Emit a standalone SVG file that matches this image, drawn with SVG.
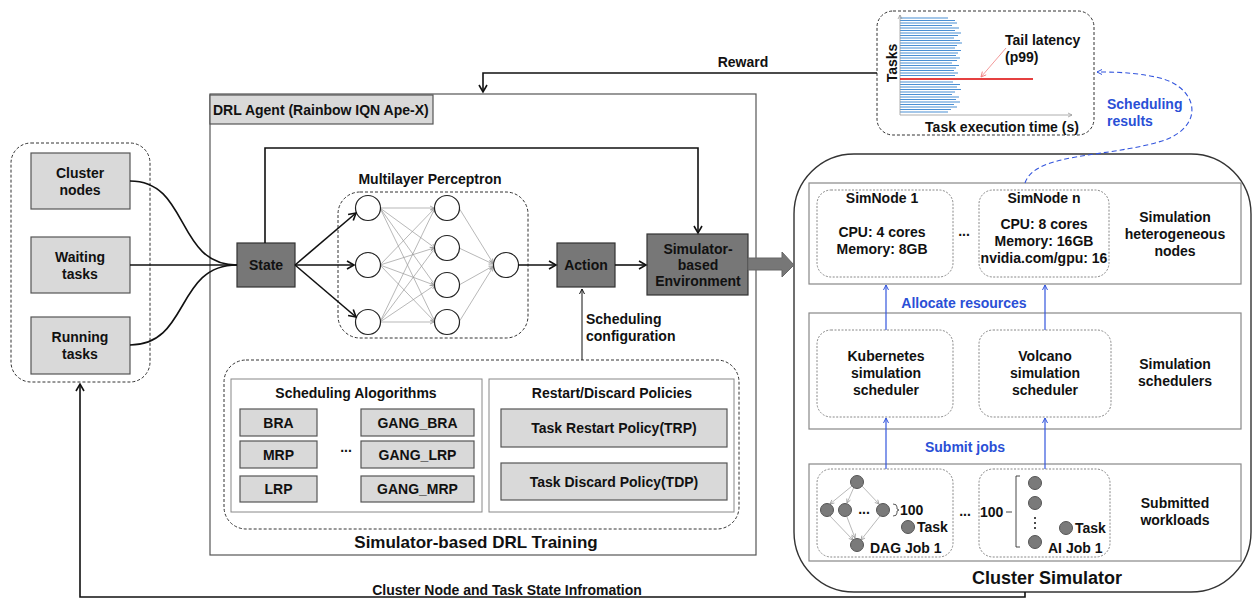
<svg xmlns="http://www.w3.org/2000/svg" width="1252" height="601" viewBox="0 0 1252 601">
<style>
text{font-family:"Liberation Sans",Arial,sans-serif;font-weight:bold;fill:#111}
.t13{font-size:14px}
.t12{font-size:14px}
.t17{font-size:17px}
.t18{font-size:18px}
.mid{text-anchor:middle}
.blue{fill:#2a4fd6}
.light{fill:#d9d9d9;stroke:#555;stroke-width:1.2}
.dark{fill:#777;stroke:#333;stroke-width:1.2}
.dash{fill:none;stroke:#333;stroke-width:1;stroke-dasharray:3,2}
.dot{fill:none;stroke:#888;stroke-width:1;stroke-dasharray:2,1.5}
.row{fill:#fff;stroke:#888;stroke-width:1.2}
.wire{fill:none;stroke:#111;stroke-width:1.6}
.gw{stroke:#999;stroke-width:0.7}
.neuron{fill:#fff;stroke:#222;stroke-width:1.2}
.task{fill:#7a7a7a;stroke:#555;stroke-width:1}
.bar{stroke:#4a8fd4;stroke-width:1.1}
.bw{stroke:#3355dd;stroke-width:1.2;fill:none}
</style>
<defs>
<marker id="ah" markerWidth="10" markerHeight="10" refX="8" refY="5" orient="auto" markerUnits="userSpaceOnUse">
<path d="M1,1 L8,5 L1,9" fill="none" stroke="#111" stroke-width="1.6"/>
</marker>
<marker id="ahs" markerWidth="8" markerHeight="8" refX="6" refY="4" orient="auto" markerUnits="userSpaceOnUse">
<path d="M1,1.5 L6,4 L1,6.5" fill="none" stroke="#111" stroke-width="1"/>
</marker>
<marker id="ahb" markerWidth="8" markerHeight="8" refX="6" refY="4" orient="auto" markerUnits="userSpaceOnUse">
<path d="M1,1.5 L6,4 L1,6.5" fill="none" stroke="#3355dd" stroke-width="1"/>
</marker>
<marker id="ahg" markerWidth="6" markerHeight="6" refX="5" refY="3" orient="auto" markerUnits="userSpaceOnUse">
<path d="M1,1 L5,3 L1,5" fill="none" stroke="#999" stroke-width="0.8"/>
</marker>
<marker id="ahp" markerWidth="7" markerHeight="7" refX="6" refY="3.5" orient="auto" markerUnits="userSpaceOnUse">
<path d="M1,1 L6,3.5 L1,6" fill="none" stroke="#f08080" stroke-width="0.9"/>
</marker>
</defs>

<!-- Input group -->
<g id="inputs">
<rect x="11" y="143" width="139" height="239" rx="20" class="dash"/>
<g id="cluster-nodes"><rect x="31" y="153" width="99" height="56" class="light"/>
<text x="80" y="178" class="t13 mid">Cluster</text><text x="80" y="195" class="t13 mid">nodes</text></g>
<g id="waiting-tasks"><rect x="31" y="237" width="99" height="56" class="light"/>
<text x="80" y="262" class="t13 mid">Waiting</text><text x="80" y="279" class="t13 mid">tasks</text></g>
<g id="running-tasks"><rect x="31" y="317" width="99" height="57" class="light"/>
<text x="80" y="342" class="t13 mid">Running</text><text x="80" y="359" class="t13 mid">tasks</text></g>
</g>

<!-- DRL agent -->
<g id="drl-agent">
<rect x="210" y="94" width="546" height="461" fill="#fff" stroke="#555" stroke-width="1.2"/>
<rect x="210" y="95" width="223" height="29" class="light"/>
<text x="213" y="115" class="t12">DRL Agent (Rainbow IQN Ape-X)</text>
<text x="476" y="548" class="t17 mid">Simulator-based DRL Training</text>
</g>

<g id="state"><rect x="237" y="243" width="58" height="44" class="dark"/>
<text x="266" y="270" class="t13 mid">State</text></g>

<g id="mlp">
<text x="430" y="184" class="t12 mid">Multilayer Perceptron</text>
<rect x="338" y="192" width="190" height="146" rx="22" class="dash"/>
<g>
<line x1="380" y1="208" x2="434" y2="208" class="gw" marker-end="url(#ahg)"/>
<line x1="380" y1="208" x2="435" y2="248" class="gw" marker-end="url(#ahg)"/>
<line x1="380" y1="208" x2="435" y2="285" class="gw" marker-end="url(#ahg)"/>
<line x1="380" y1="208" x2="435" y2="322" class="gw" marker-end="url(#ahg)"/>
<line x1="380" y1="265" x2="435" y2="208" class="gw" marker-end="url(#ahg)"/>
<line x1="380" y1="265" x2="434" y2="248" class="gw" marker-end="url(#ahg)"/>
<line x1="380" y1="265" x2="434" y2="285" class="gw" marker-end="url(#ahg)"/>
<line x1="380" y1="265" x2="435" y2="322" class="gw" marker-end="url(#ahg)"/>
<line x1="380" y1="322" x2="435" y2="208" class="gw" marker-end="url(#ahg)"/>
<line x1="380" y1="322" x2="435" y2="248" class="gw" marker-end="url(#ahg)"/>
<line x1="380" y1="322" x2="435" y2="285" class="gw" marker-end="url(#ahg)"/>
<line x1="380" y1="322" x2="434" y2="322" class="gw" marker-end="url(#ahg)"/>
<line x1="459" y1="208" x2="493" y2="263" class="gw" marker-end="url(#ahg)"/>
<line x1="459" y1="248" x2="493" y2="264" class="gw" marker-end="url(#ahg)"/>
<line x1="459" y1="285" x2="493" y2="266" class="gw" marker-end="url(#ahg)"/>
<line x1="459" y1="322" x2="493" y2="267" class="gw" marker-end="url(#ahg)"/>
</g>
<circle cx="368" cy="208" r="12.5" class="neuron"/>
<circle cx="368" cy="265" r="12.5" class="neuron"/>
<circle cx="368" cy="322" r="12.5" class="neuron"/>
<circle cx="447" cy="208" r="12.5" class="neuron"/>
<circle cx="447" cy="248" r="12.5" class="neuron"/>
<circle cx="447" cy="285" r="12.5" class="neuron"/>
<circle cx="447" cy="322" r="12.5" class="neuron"/>
<circle cx="506" cy="265" r="12.5" class="neuron"/>
</g>

<g id="action"><rect x="557" y="243" width="58" height="44" class="dark"/>
<text x="586" y="270" class="t13 mid">Action</text></g>

<g id="sim-env"><rect x="647" y="234" width="101" height="61" class="dark"/>
<text x="698" y="254" class="t13 mid">Simulator-</text>
<text x="698" y="270" class="t13 mid">based</text>
<text x="698" y="286" class="t13 mid">Environment</text></g>

<g id="training-config">
<rect x="224" y="360" width="515" height="169" rx="22" class="dash"/>
<rect x="231" y="379" width="251" height="133" fill="#fff" stroke="#888" stroke-width="1"/>
<rect x="489" y="379" width="245" height="133" fill="#fff" stroke="#888" stroke-width="1"/>
<text x="356" y="398" class="t12 mid">Scheduling Alogorithms</text>
<text x="612" y="398" class="t12 mid">Restart/Discard Policies</text>
<g id="bra"><rect x="240" y="409" width="77" height="27" class="light"/><text x="278.5" y="427.5" class="t12 mid">BRA</text></g>
<g id="mrp"><rect x="240" y="441" width="77" height="27" class="light"/><text x="278.5" y="459.5" class="t12 mid">MRP</text></g>
<g id="lrp"><rect x="240" y="476" width="77" height="26" class="light"/><text x="278.5" y="494" class="t12 mid">LRP</text></g>
<text x="346" y="452" class="t12 mid">...</text>
<g id="gang-bra"><rect x="361" y="409" width="113" height="27" class="light"/><text x="417.5" y="427.5" class="t12 mid">GANG_BRA</text></g>
<g id="gang-lrp"><rect x="361" y="441" width="113" height="27" class="light"/><text x="417.5" y="459.5" class="t12 mid">GANG_LRP</text></g>
<g id="gang-mrp"><rect x="361" y="476" width="113" height="26" class="light"/><text x="417.5" y="494" class="t12 mid">GANG_MRP</text></g>
<g id="trp"><rect x="501" y="409" width="226" height="38" class="light"/><text x="614" y="433" class="t12 mid">Task Restart Policy(TRP)</text></g>
<g id="tdp"><rect x="501" y="463" width="226" height="37" class="light"/><text x="614" y="486.5" class="t12 mid">Task Discard Policy(TDP)</text></g>
</g>

<!-- Results plot -->
<g id="results">
<rect x="877" y="11" width="217" height="124" rx="16" class="dash"/>
<g>
<line x1="900" y1="18" x2="948" y2="18" class="bar"/>
<line x1="900" y1="20.5" x2="955" y2="20.5" class="bar"/>
<line x1="900" y1="23" x2="957" y2="23" class="bar"/>
<line x1="900" y1="25.5" x2="952" y2="25.5" class="bar"/>
<line x1="900" y1="28" x2="959" y2="28" class="bar"/>
<line x1="900" y1="30.5" x2="955" y2="30.5" class="bar"/>
<line x1="900" y1="33" x2="961" y2="33" class="bar"/>
<line x1="900" y1="35.5" x2="958" y2="35.5" class="bar"/>
<line x1="900" y1="38" x2="954" y2="38" class="bar"/>
<line x1="900" y1="40.5" x2="960" y2="40.5" class="bar"/>
<line x1="900" y1="43" x2="962" y2="43" class="bar"/>
<line x1="900" y1="45.5" x2="957" y2="45.5" class="bar"/>
<line x1="900" y1="48" x2="955" y2="48" class="bar"/>
<line x1="900" y1="50.5" x2="961" y2="50.5" class="bar"/>
<line x1="900" y1="53" x2="958" y2="53" class="bar"/>
<line x1="900" y1="55.5" x2="956" y2="55.5" class="bar"/>
<line x1="900" y1="58" x2="960" y2="58" class="bar"/>
<line x1="900" y1="60.5" x2="957" y2="60.5" class="bar"/>
<line x1="900" y1="63" x2="952" y2="63" class="bar"/>
<line x1="900" y1="65.5" x2="959" y2="65.5" class="bar"/>
<line x1="900" y1="68" x2="956" y2="68" class="bar"/>
<line x1="900" y1="70.5" x2="954" y2="70.5" class="bar"/>
<line x1="900" y1="73" x2="958" y2="73" class="bar"/>
<line x1="900" y1="75.5" x2="955" y2="75.5" class="bar"/>
<line x1="900" y1="82" x2="953" y2="82" class="bar"/>
<line x1="900" y1="84.5" x2="960" y2="84.5" class="bar"/>
<line x1="900" y1="87" x2="957" y2="87" class="bar"/>
<line x1="900" y1="89.5" x2="961" y2="89.5" class="bar"/>
<line x1="900" y1="92" x2="955" y2="92" class="bar"/>
<line x1="900" y1="94.5" x2="952" y2="94.5" class="bar"/>
<line x1="900" y1="97" x2="959" y2="97" class="bar"/>
<line x1="900" y1="99.5" x2="956" y2="99.5" class="bar"/>
<line x1="900" y1="102" x2="960" y2="102" class="bar"/>
<line x1="900" y1="104.5" x2="954" y2="104.5" class="bar"/>
<line x1="900" y1="107" x2="957" y2="107" class="bar"/>
<line x1="900" y1="109.5" x2="951" y2="109.5" class="bar"/>
<line x1="900" y1="112" x2="948" y2="112" class="bar"/>
</g>
<line x1="900" y1="115" x2="900" y2="15" stroke="#999" stroke-width="0.8" marker-end="url(#ahg)"/>
<line x1="900" y1="115" x2="1072" y2="115" stroke="#999" stroke-width="0.8" marker-end="url(#ahg)"/>
<line x1="900" y1="79" x2="1033" y2="79" stroke="#d00" stroke-width="1.5"/>
<line x1="1006" y1="48" x2="981" y2="77" stroke="#f08080" stroke-width="0.8" marker-end="url(#ahp)"/>
<text x="1005" y="45" class="t13">Tail latency</text>
<text x="1005" y="62" class="t13">(p99)</text>
<text x="897" y="63" class="t13 mid" transform="rotate(-90 897 63)">Tasks</text>
<text x="1002" y="132" class="t13 mid">Task execution time (s)</text>
</g>

<!-- Cluster Simulator -->
<g id="cluster-simulator">
<rect x="794" y="154" width="457" height="438" rx="60" fill="#fff" stroke="#333" stroke-width="1.4"/>
<text x="1047" y="584" class="t18 mid">Cluster Simulator</text>
<rect x="809" y="183" width="432" height="101" class="row"/>
<rect x="809" y="313" width="432" height="116" class="row"/>
<rect x="809" y="464" width="432" height="97" class="row"/>
<text x="1175" y="222" class="t13 mid">Simulation</text>
<text x="1175" y="239" class="t13 mid">heterogeneous</text>
<text x="1175" y="256" class="t13 mid">nodes</text>
<text x="1175" y="369" class="t13 mid">Simulation</text>
<text x="1175" y="386" class="t13 mid">schedulers</text>
<text x="1175" y="508" class="t13 mid">Submitted</text>
<text x="1175" y="525" class="t13 mid">workloads</text>
</g>

<g id="simnode-1"><rect x="817" y="190" width="136" height="87" rx="14" class="dot"/>
<text x="882" y="203" class="t13 mid">SimNode 1</text>
<text x="882" y="237" class="t13 mid">CPU: 4 cores</text>
<text x="882" y="254" class="t13 mid">Memory: 8GB</text></g>
<text x="964" y="236" class="t13 mid">...</text>
<g id="simnode-n"><rect x="979" y="190" width="130" height="87" rx="14" class="dot"/>
<text x="1044" y="203" class="t13 mid">SimNode n</text>
<text x="1044" y="229" class="t13 mid">CPU: 8 cores</text>
<text x="1044" y="246" class="t13 mid">Memory: 16GB</text>
<text x="1044" y="263" class="t13 mid">nvidia.com/gpu: 16</text></g>

<g id="k8s-scheduler"><rect x="817" y="330" width="136" height="87" rx="14" class="dot"/>
<text x="886" y="361" class="t13 mid">Kubernetes</text>
<text x="886" y="378" class="t13 mid">simulation</text>
<text x="886" y="395" class="t13 mid">scheduler</text></g>
<g id="volcano-scheduler"><rect x="979" y="330" width="132" height="87" rx="14" class="dot"/>
<text x="1045" y="361" class="t13 mid">Volcano</text>
<text x="1045" y="378" class="t13 mid">simulation</text>
<text x="1045" y="395" class="t13 mid">scheduler</text></g>

<g id="dag-job"><rect x="817" y="469" width="136" height="88" rx="14" class="dot"/>
<g stroke="#999" stroke-width="0.7">
<line x1="852" y1="486" x2="830" y2="504" marker-end="url(#ahg)"/>
<line x1="854" y1="487" x2="847" y2="503" marker-end="url(#ahg)"/>
<line x1="862" y1="486" x2="879" y2="504" marker-end="url(#ahg)"/>
<line x1="830" y1="516" x2="853" y2="540" marker-end="url(#ahg)"/>
<line x1="847" y1="517" x2="855" y2="538" marker-end="url(#ahg)"/>
<line x1="880" y1="516" x2="861" y2="540" marker-end="url(#ahg)"/>
</g>
<circle cx="857" cy="482" r="6.5" class="task"/>
<circle cx="827" cy="510" r="6.5" class="task"/>
<circle cx="845" cy="510" r="6.5" class="task"/>
<circle cx="883" cy="510" r="6.5" class="task"/>
<circle cx="857" cy="545" r="6.5" class="task"/>
<text x="864" y="514" class="t13 mid">...</text>
<path d="M893,504 Q897,504 897,507 L897,509 L899,510 L897,511 L897,513 Q897,516 893,516" fill="none" stroke="#333" stroke-width="0.8"/>
<text x="900" y="515" class="t13">100</text>
<circle cx="908" cy="527" r="6.5" class="task"/>
<text x="917" y="532" class="t13">Task</text>
<text x="870" y="553" class="t13">DAG Job 1</text>
</g>
<text x="965" y="516" class="t13 mid">...</text>
<g id="ai-job"><rect x="979" y="469" width="131" height="88" rx="14" class="dot"/>
<text x="980" y="517" class="t13">100</text>
<line x1="1006" y1="512" x2="1012" y2="512" stroke="#333" stroke-width="0.9"/>
<path d="M1020,476 L1016,476 L1016,547 L1020,547" fill="none" stroke="#333" stroke-width="0.9"/>
<circle cx="1035" cy="483" r="6.5" class="task"/>
<circle cx="1035" cy="503" r="6.5" class="task"/>
<circle cx="1035" cy="542" r="6.5" class="task"/>
<circle cx="1035" cy="518" r="1" fill="#111"/>
<circle cx="1035" cy="523" r="1" fill="#111"/>
<circle cx="1035" cy="528" r="1" fill="#111"/>
<circle cx="1066" cy="528" r="6.5" class="task"/>
<text x="1075" y="533" class="t13">Task</text>
<text x="1048" y="553" class="t13">AI Job 1</text>
</g>

<!-- connectors -->
<g id="connectors">
<path d="M130,181 C190,181 175,265 237,265" class="wire"/>
<path d="M130,265 L237,265" class="wire"/>
<path d="M130,345 C190,345 175,265 237,265" class="wire"/>
<line x1="295" y1="265" x2="356" y2="213" class="wire" marker-end="url(#ah)"/>
<line x1="295" y1="265" x2="354" y2="265" class="wire" marker-end="url(#ah)"/>
<line x1="295" y1="265" x2="356" y2="317" class="wire" marker-end="url(#ah)"/>
<line x1="518" y1="265" x2="556" y2="265" class="wire" marker-end="url(#ah)"/>
<line x1="615" y1="265" x2="646" y2="265" class="wire" marker-end="url(#ah)"/>
<path d="M265,243 L265,148 L698,148 L698,233" class="wire" marker-end="url(#ah)"/>
<line x1="582" y1="360" x2="582" y2="289" stroke="#111" stroke-width="1" marker-end="url(#ahs)"/>
<text x="586" y="324" class="t13">Scheduling</text>
<text x="586" y="341" class="t13">configuration</text>
<path d="M877,73 L483,73 L483,92" class="wire" marker-end="url(#ah)"/>
<text x="743" y="67" class="t13 mid">Reward</text>
<path d="M748,258 L782,258 L782,252 L794,265 L782,277 L782,270 L748,270 Z" fill="#777" stroke="#666" stroke-width="1"/>
<path d="M1025,592 L1025,597 L80,597 L80,384" class="wire" marker-end="url(#ah)"/>
<text x="507" y="595" class="t12 mid">Cluster Node and Task State Infromation</text>
<line x1="886" y1="330" x2="886" y2="285" class="bw" marker-end="url(#ahb)"/>
<line x1="1045" y1="330" x2="1045" y2="285" class="bw" marker-end="url(#ahb)"/>
<text x="964" y="308" class="t13 mid blue">Allocate resources</text>
<line x1="886" y1="469" x2="886" y2="418" class="bw" marker-end="url(#ahb)"/>
<line x1="1045" y1="469" x2="1045" y2="418" class="bw" marker-end="url(#ahb)"/>
<text x="965" y="452" class="t13 mid blue">Submit jobs</text>
<path d="M1025,183 C1035,152 1110,158 1165,140 C1205,125 1198,88 1160,78 C1135,72 1112,72 1097,72" fill="none" stroke="#3355dd" stroke-width="1.1" stroke-dasharray="5,3" marker-end="url(#ahb)"/>
<text x="1107" y="109" class="t13 blue">Scheduling</text>
<text x="1107" y="126" class="t13 blue">results</text>
</g>
</svg>
